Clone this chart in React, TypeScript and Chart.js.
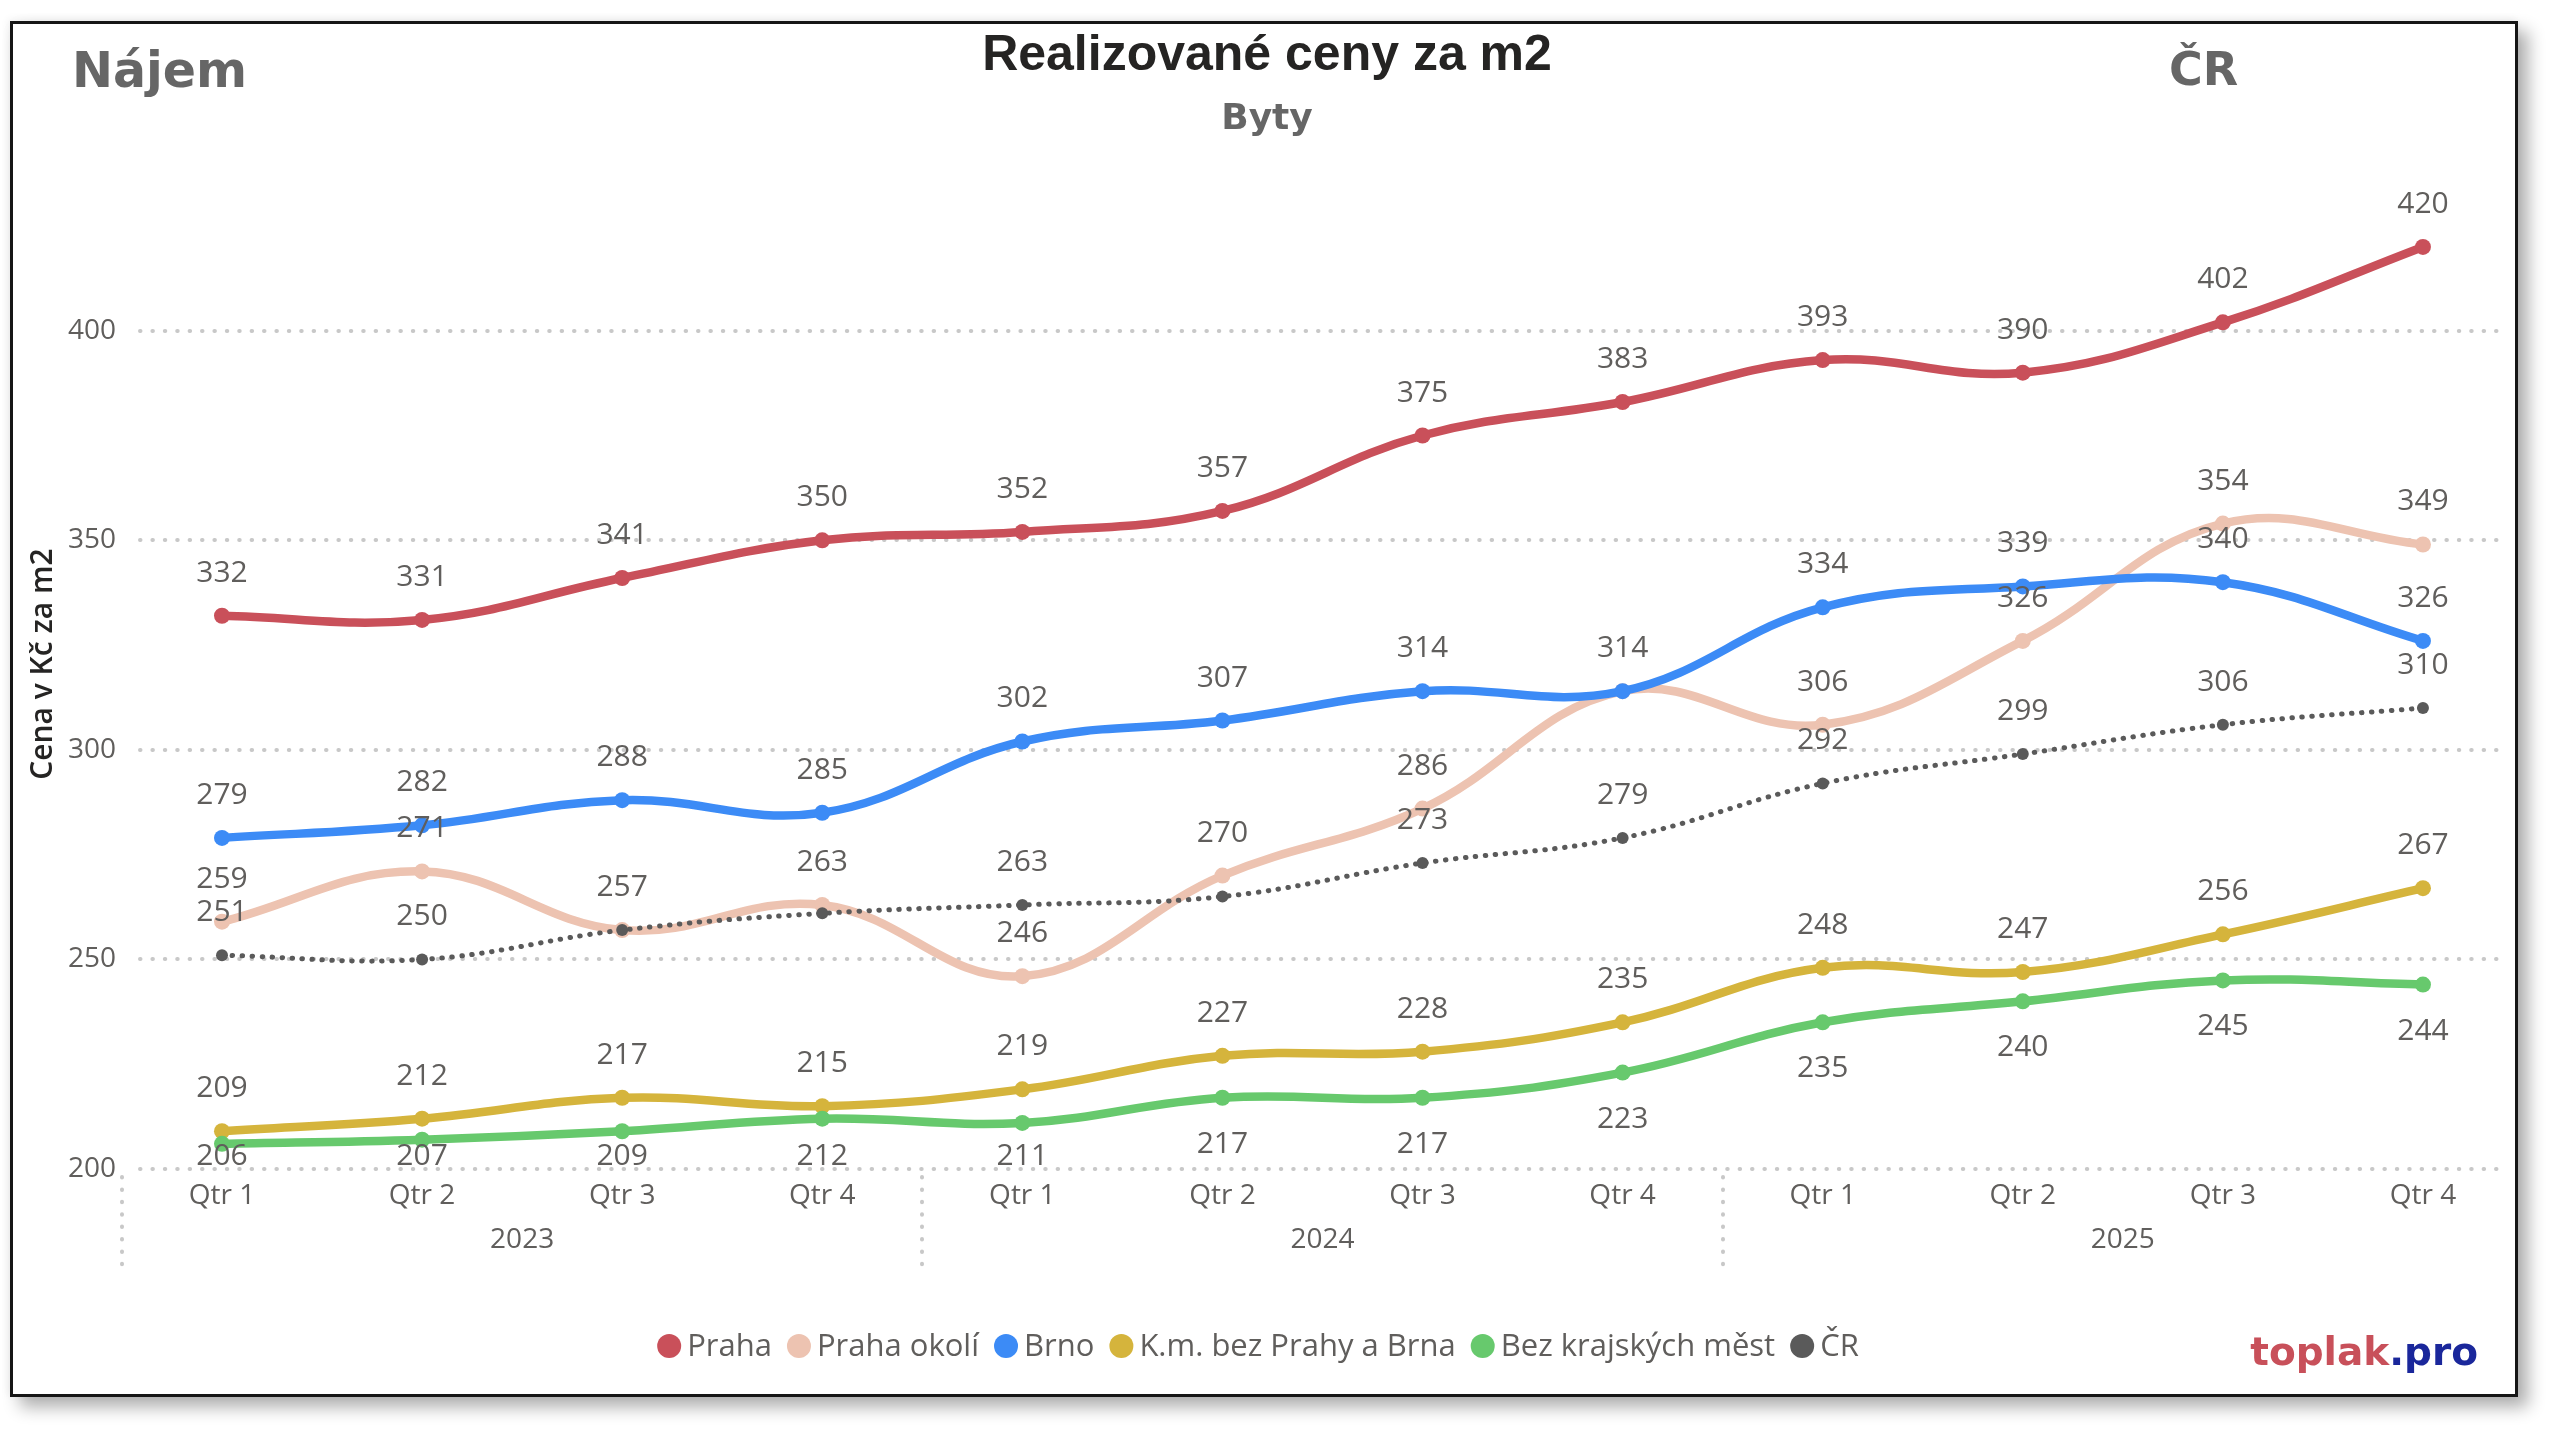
import React, { useEffect, useRef } from 'react';
import { Chart, registerables } from 'chart.js';

Chart.register(...registerables);

// ---- data ----
const years = ['2023', '2024', '2025'];
const quarters = ['Qtr 1', 'Qtr 2', 'Qtr 3', 'Qtr 4'];
const categories = years.flatMap((y) => quarters.map((q) => `${q} ${y}`));
const seriesNames = ['Praha', 'Praha okolí', 'Brno', 'K.m. bez Prahy a Brna', 'Bez krajských měst', 'ČR'];
const praha = [332, 331, 341, 350, 352, 357, 375, 383, 393, 390, 402, 420];
const prahaOkoli = [259, 271, 257, 263, 246, 270, 286, 314, 306, 326, 354, 349];
const brno = [279, 282, 288, 285, 302, 307, 314, 314, 334, 339, 340, 326];
const kmBezPrahyBrna = [209, 212, 217, 215, 219, 227, 228, 235, 248, 247, 256, 267];
const bezKrajskychMest = [206, 207, 209, 212, 211, 217, 217, 223, 235, 240, 245, 244];
const cr = [251, 250, 257, 261, 263, 265, 273, 279, 292, 299, 306, 310];
const yTicks = [200, 250, 300, 350, 400];
const seriesValues = [praha, prahaOkoli, brno, kmBezPrahyBrna, bezKrajskychMest, cr];

// ---- styles ----
const seriesStyles = [
  { color: '#C9505A', width: 8.5, radius: 8, dash: [] as number[], below: false },
  { color: '#EDC3B1', width: 8.5, radius: 8, dash: [] as number[], below: false },
  { color: '#3C8BF6', width: 8.5, radius: 8, dash: [] as number[], below: false },
  { color: '#D5B43C', width: 8.5, radius: 8, dash: [] as number[], below: false },
  { color: '#67C96D', width: 8.5, radius: 8, dash: [] as number[], below: true },
  { color: '#5A5A5A', width: 5, radius: 6, dash: [0.5, 9.5], below: false },
];

const GREY = '#605E5C';
const FONT = '"Open Sans", "Noto Sans", sans-serif';

const decorPlugin = {
  id: 'decor',
  beforeDraw(chart: any) {
    chart.ctx.lineCap = 'round';
  },
  afterDatasetsDraw(chart: any) {
    const ctx = chart.ctx as CanvasRenderingContext2D;
    const area = chart.chartArea;
    const placed: { l: number; r: number; t: number; b: number }[] = [];
    ctx.save();
    ctx.font = `30px ${FONT}`;
    ctx.fillStyle = GREY;
    ctx.textAlign = 'center';
    ctx.textBaseline = 'alphabetic';
    chart.data.datasets.forEach((ds: any, di: number) => {
      const meta = chart.getDatasetMeta(di);
      meta.data.forEach((pt: any, i: number) => {
        const v = ds.data[i].y;
        const text = String(v);
        let base = ds.labelBelow ? pt.y + 55 : pt.y - 34;
        if (ds.labelBelow) base = Math.min(base, area.bottom - 4);
        const cy = base - 11;
        const w = ctx.measureText(text).width;
        const box = { l: pt.x - w / 2, r: pt.x + w / 2, t: cy - 14, b: cy + 14 };
        if (placed.some((o) => o.l < box.r && box.l < o.r && o.t < box.b && box.t < o.b)) return;
        placed.push(box);
        ctx.fillText(text, pt.x, base);
      });
    });
    ctx.restore();
  },
  afterDraw(chart: any) {
    const ctx = chart.ctx as CanvasRenderingContext2D;
    const xs = chart.scales.x;
    ctx.save();
    ctx.lineCap = 'butt';

    // titles
    ctx.textBaseline = 'alphabetic';
    ctx.textAlign = 'center';
    ctx.fillStyle = '#252423';
    ctx.font = 'bold 50px "Liberation Sans", Arial, sans-serif';
    ctx.fillText('Realizované ceny za m2', 1254, 46);
    ctx.fillStyle = '#666666';
    ctx.font = 'bold 36px "DejaVu Sans", sans-serif';
    ctx.fillText('Byty', 1254, 105);
    ctx.textAlign = 'left';
    ctx.font = 'bold 49px "DejaVu Sans", sans-serif';
    ctx.fillText('Nájem', 59, 63);
    ctx.font = 'bold 46px "DejaVu Sans", sans-serif';
    ctx.fillText('ČR', 2156, 61);

    // y axis title
    ctx.save();
    ctx.translate(30, 640);
    ctx.rotate(-Math.PI / 2);
    ctx.textAlign = 'center';
    ctx.textBaseline = 'middle';
    ctx.fillStyle = '#252423';
    ctx.font = `600 30px ${FONT}`;
    ctx.fillText('Cena v Kč za m2', 0, 0);
    ctx.restore();

    // year group labels and dividers
    ctx.font = `28px ${FONT}`;
    ctx.fillStyle = GREY;
    ctx.textAlign = 'center';
    ctx.textBaseline = 'middle';
    years.forEach((y, gi) => {
      const cx = xs.getPixelForValue(gi * quarters.length + (quarters.length - 1) / 2);
      ctx.fillText(y, cx, 1216);
    });
    ctx.strokeStyle = '#C8C8C8';
    ctx.lineWidth = 4;
    ctx.lineCap = 'round';
    ctx.setLineDash([0.5, 11.9]);
    for (let gi = 0; gi <= years.length; gi++) {
      const dx = Math.round(xs.getPixelForValue(gi * quarters.length - 0.5));
      if (dx > chart.width) continue;
      ctx.beginPath();
      ctx.moveTo(dx, 1153);
      ctx.lineTo(dx, 1243);
      ctx.stroke();
    }
    ctx.setLineDash([]);
    ctx.lineCap = 'butt';

    // legend
    ctx.font = `31px ${FONT}`;
    ctx.textAlign = 'left';
    ctx.textBaseline = 'middle';
    const items = chart.data.datasets.map((ds: any) => ({
      text: ds.label as string,
      color: ds.borderColor as string,
      w: ctx.measureText(ds.label).width,
    }));
    const r = 12, gap = 6, sep = 15, ly = 1322;
    const total = items.reduce((s: number, it: any) => s + 2 * r + gap + it.w, 0) + sep * (items.length - 1);
    let x = 1245 - total / 2;
    items.forEach((it: any) => {
      ctx.fillStyle = it.color;
      ctx.beginPath();
      ctx.arc(x + r, ly, r, 0, Math.PI * 2);
      ctx.fill();
      ctx.fillStyle = GREY;
      ctx.fillText(it.text, x + 2 * r + gap, ly + 1);
      x += 2 * r + gap + it.w + sep;
    });

    // watermark
    ctx.font = 'bold 39px "DejaVu Sans", sans-serif';
    ctx.textBaseline = 'alphabetic';
    const w1 = ctx.measureText('toplak').width;
    const w2 = ctx.measureText('.pro').width;
    const right = 2465;
    ctx.fillStyle = '#C8505A';
    ctx.fillText('toplak', right - w1 - w2, 1341);
    ctx.fillStyle = '#1A279B';
    ctx.fillText('.pro', right - w2, 1341);

    ctx.restore();
  },
};

export default function App() {
  const ref = useRef<HTMLCanvasElement>(null);

  useEffect(() => {
    const n = seriesValues.length;
    const datasets = seriesValues.map((vals, si) => {
      const st = seriesStyles[si];
      return {
        label: seriesNames[si],
        data: vals.map((v, i) => ({ x: i, y: v })),
        borderColor: st.color,
        backgroundColor: st.color,
        borderWidth: st.width,
        borderDash: st.dash,
        borderCapStyle: st.dash.length ? 'round' : 'butt',
        borderJoinStyle: 'round',
        pointRadius: st.radius,
        pointHoverRadius: st.radius,
        pointBackgroundColor: st.color,
        pointBorderWidth: 0,
        tension: 0.4,
        fill: false,
        order: n - 1 - si,
        labelBelow: st.below,
      };
    });

    const chart = new Chart(ref.current as HTMLCanvasElement, {
      type: 'line',
      data: { datasets } as any,
      options: {
        animation: false,
        responsive: false,
        maintainAspectRatio: false,
        events: [],
        layout: { padding: { top: 181, bottom: 125, left: 0, right: 13 } },
        plugins: {
          legend: { display: false },
          title: { display: false },
          tooltip: { enabled: false },
        },
        scales: {
          x: {
            type: 'linear',
            min: -0.4098,
            max: 11.395,
            afterBuildTicks: (s: any) => {
              s.ticks = categories.map((_, i) => ({ value: i }));
            },
            afterFit: (s: any) => {
              s.height = 100;
            },
            ticks: {
              autoSkip: false,
              maxRotation: 0,
              minRotation: 0,
              padding: 10,
              color: GREY,
              font: { family: FONT, size: 28 },
              callback: (v: any) => quarters[Math.round(Number(v)) % quarters.length],
            },
            grid: { display: false, drawTicks: false },
            border: { display: false },
          },
          y: {
            type: 'linear',
            min: 200,
            max: 430,
            afterBuildTicks: (s: any) => {
              s.ticks = yTicks.map((v) => ({ value: v }));
            },
            afterFit: (s: any) => {
              s.width = 127;
            },
            ticks: {
              padding: 24,
              color: GREY,
              font: { family: FONT, size: 28 },
            },
            grid: { color: '#C8C8C8', lineWidth: 4, drawTicks: false },
            border: { display: false, dash: [0.5, 11.9] },
          },
        },
      } as any,
      plugins: [decorPlugin],
    });
    return () => chart.destroy();
  }, []);

  return (
    <div
      style={{
        position: 'fixed',
        left: 0,
        top: 0,
        width: 2560,
        height: 1434,
        background: '#ffffff',
        overflow: 'hidden',
      }}
    >
      <div
        style={{
          position: 'absolute',
          left: 10,
          top: 21,
          width: 2502,
          height: 1370,
          border: '3px solid #161616',
          background: '#ffffff',
          boxShadow: '10px 10px 16px rgba(0,0,0,0.32), -2px -2px 8px rgba(0,0,0,0.06)',
        }}
      >
        <canvas ref={ref} width={2502} height={1370} style={{ display: 'block', width: 2502, height: 1370 }} />
      </div>
    </div>
  );
}
